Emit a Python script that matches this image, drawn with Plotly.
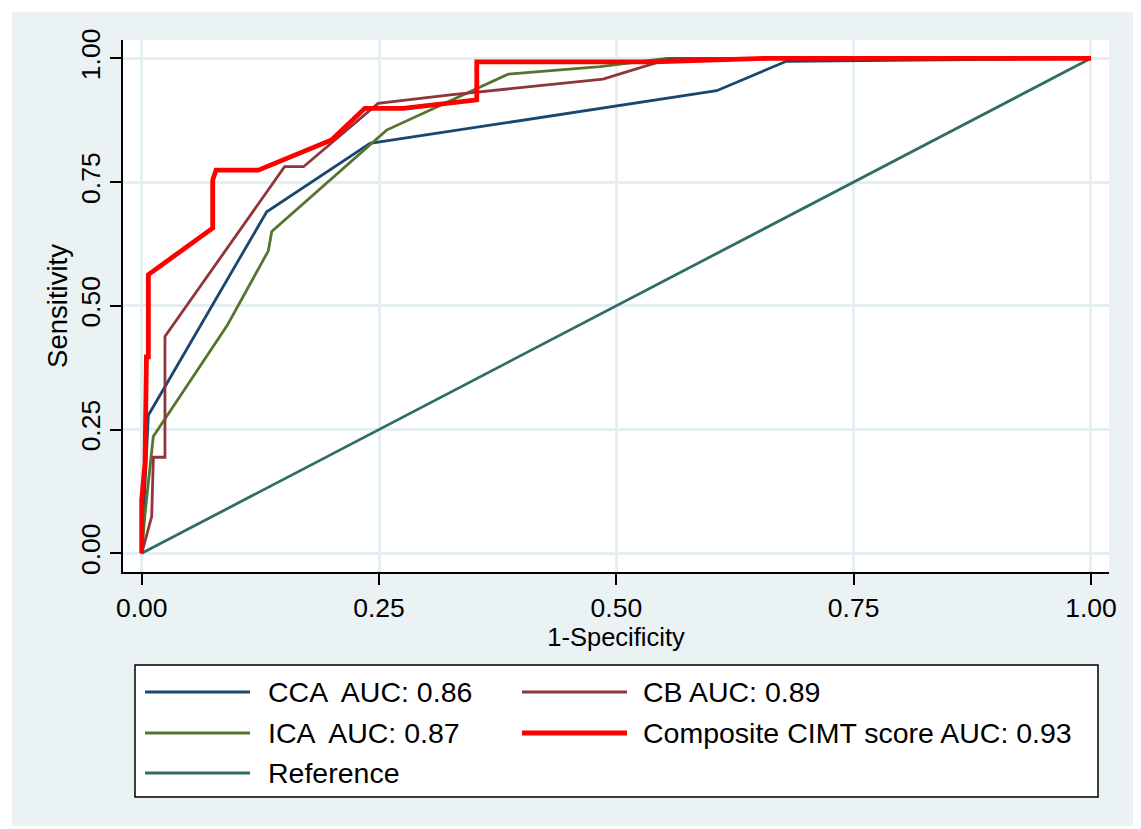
import plotly.graph_objects as go

# ---- data ----
cca_x = [0.0, 0.007, 0.1317, 0.2405, 0.6057, 0.679, 1.0]
cca_y = [0.0, 0.279, 0.690, 0.828, 0.9345, 0.994, 1.0]

ica_x = [0.0, 0.0035, 0.0122, 0.09, 0.1334, 0.137, 0.258, 0.386, 0.483, 0.553, 1.0]
ica_y = [0.0, 0.08, 0.236, 0.46, 0.611, 0.650, 0.855, 0.968, 0.983, 1.0, 1.0]

cb_x = [0.0, 0.0105, 0.0123, 0.0245, 0.0245, 0.1505, 0.1705, 0.202, 0.249, 0.325, 0.486, 0.557, 1.0]
cb_y = [0.0, 0.074, 0.194, 0.194, 0.438, 0.781, 0.781, 0.833, 0.909, 0.926, 0.958, 1.0, 1.0]

comp_x = [0.0, 0.0, 0.0035, 0.005, 0.005, 0.007, 0.007, 0.0748, 0.0748, 0.0783, 0.1228,
          0.200, 0.235, 0.2756, 0.353, 0.353, 0.54, 0.66, 1.0]
comp_y = [0.0, 0.108, 0.182, 0.31, 0.397, 0.397, 0.563, 0.657, 0.754, 0.774, 0.774,
          0.835, 0.899, 0.899, 0.916, 0.993, 0.993, 1.0, 1.0]

ref_x = [0.0, 1.0]
ref_y = [0.0, 1.0]

series_names = ["CCA  AUC: 0.86", "CB AUC: 0.89", "ICA  AUC: 0.87",
                "Composite CIMT score AUC: 0.93", "Reference"]
tick_vals = [0.0, 0.25, 0.5, 0.75, 1.0]
tick_text = ["0.00", "0.25", "0.50", "0.75", "1.00"]

# ---- styles ----
C_CCA = "#1a476f"
C_CB = "#90353b"
C_ICA = "#55752f"
C_COMP = "#ff0000"
C_REF = "#2f6e66"
BG = "#eaf2f3"
GRID = "#e5eef1"
FONT = "Liberation Sans, Arial, sans-serif"

OFF = 8                      # page body margin of the html page
WIN_W, WIN_H = 1141, 829
W, H = WIN_W - OFF, WIN_H - OFF
PL, PR, PT, PB = 123, 1109, 40, 572  # plot area in window pixels


def px(x):
    return (x - PL) / (PR - PL)


def py(y):
    return (PB - y) / (PB - PT)


fig = go.Figure()
fig.add_trace(go.Scatter(x=ref_x, y=ref_y, mode="lines", name=series_names[4],
                         line=dict(color=C_REF, width=2.8)))
fig.add_trace(go.Scatter(x=cca_x, y=cca_y, mode="lines", name=series_names[0],
                         line=dict(color=C_CCA, width=2.8)))
fig.add_trace(go.Scatter(x=ica_x, y=ica_y, mode="lines", name=series_names[2],
                         line=dict(color=C_ICA, width=2.8)))
fig.add_trace(go.Scatter(x=cb_x, y=cb_y, mode="lines", name=series_names[1],
                         line=dict(color=C_CB, width=2.8)))
fig.add_trace(go.Scatter(x=comp_x, y=comp_y, mode="lines", name=series_names[3],
                         line=dict(color=C_COMP, width=4.8)))

shapes = []
annotations = []
# outer light background region
shapes.append(dict(type="rect", xref="paper", yref="paper", layer="below",
                   x0=px(12), x1=px(1138), y0=py(826), y1=py(12),
                   fillcolor=BG, line=dict(width=0)))
# white plot region
shapes.append(dict(type="rect", xref="paper", yref="paper", layer="below",
                   x0=0, x1=1, y0=0, y1=1,
                   fillcolor="white", line=dict(width=0)))
# legend box
shapes.append(dict(type="rect", xref="paper", yref="paper",
                   x0=px(135), x1=px(1098), y0=py(797), y1=py(665),
                   fillcolor="white", line=dict(color="black", width=1.5)))
legend_items = [
    (series_names[0], C_CCA, 2.8, 145, 250, 266, 692),
    (series_names[1], C_CB, 2.8, 522, 627, 641, 692),
    (series_names[2], C_ICA, 2.8, 145, 250, 266, 733),
    (series_names[3], C_COMP, 4.8, 522, 627, 641, 733),
    (series_names[4], C_REF, 2.8, 145, 250, 266, 773),
]
for name, col, w, lx0, lx1, tx, ty in legend_items:
    shapes.append(dict(type="line", xref="paper", yref="paper",
                       x0=px(lx0), x1=px(lx1), y0=py(ty), y1=py(ty),
                       line=dict(color=col, width=w)))
    annotations.append(dict(xref="paper", yref="paper", x=px(tx), y=py(ty),
                            xanchor="left", yanchor="middle", showarrow=False,
                            text=name, font=dict(family=FONT, size=28.5, color="black")))

fig.update_layout(
    width=W, height=H,
    margin=dict(l=PL - OFF, r=W - (PR - OFF), t=PT - OFF, b=H - (PB - OFF), pad=0),
    paper_bgcolor="white", plot_bgcolor="white",
    showlegend=False,
    shapes=shapes, annotations=annotations,
    font=dict(family=FONT, color="black"),
)
fig.update_xaxes(
    range=[-0.0197, 1.019], tickvals=tick_vals, ticktext=tick_text,
    showgrid=True, gridcolor=GRID, gridwidth=2.5, zeroline=False,
    showline=True, linecolor="black", linewidth=1.5,
    ticks="outside", ticklen=11, tickwidth=1.5, tickcolor="black",
    tickfont=dict(family=FONT, size=26.5),
    title=dict(text="1-Specificity", font=dict(family=FONT, size=25.5), standoff=4),
)
fig.update_yaxes(
    range=[-0.0378, 1.037], tickvals=tick_vals, ticktext=tick_text,
    showgrid=True, gridcolor=GRID, gridwidth=2.5, zeroline=False,
    showline=True, linecolor="black", linewidth=1.5,
    ticks="outside", ticklen=11, tickwidth=1.5, tickcolor="black",
    tickangle=-90,
    tickfont=dict(family=FONT, size=26.5),
    title=dict(text="Sensitivity", font=dict(family=FONT, size=27.5), standoff=0),
)

fig.write_html("out.html")
